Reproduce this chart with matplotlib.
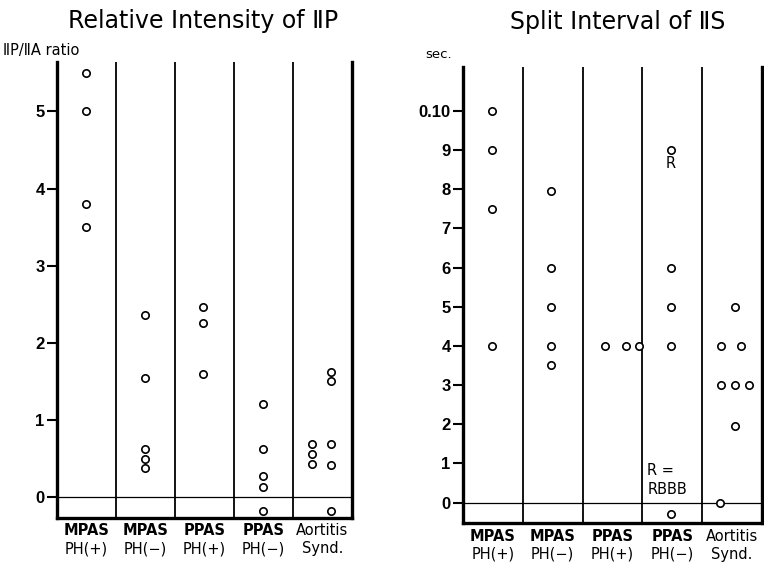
import matplotlib
matplotlib.use("Agg")
import matplotlib.pyplot as plt
from matplotlib.transforms import blended_transform_factory

# ---- data ----
groups_top = ["MPAS", "MPAS", "PPAS", "PPAS", "Aortitis"]
groups_bot = ["PH(+)", "PH(\u2212)", "PH(+)", "PH(\u2212)", "Synd."]

# Relative intensity of IIP (IIP/IIA ratio): group index, value, offset in column
ip_group = [0, 0, 0, 0,
            1, 1, 1, 1, 1,
            2, 2, 2,
            3, 3, 3, 3, 3,
            4, 4, 4, 4, 4, 4, 4, 4]
ip_value = [5.5, 5.0, 3.8, 3.5,
            2.36, 1.54, 0.62, 0.50, 0.38,
            2.46, 2.26, 1.60,
            1.21, 0.62, 0.27, 0.13, -0.18,
            0.69, 0.56, 0.43, 1.62, 1.50, 0.69, 0.42, -0.18]
ip_offset = [0.49, 0.49, 0.49, 0.49,
             0.49, 0.49, 0.49, 0.49, 0.49,
             0.47, 0.47, 0.47,
             0.49, 0.49, 0.49, 0.49, 0.49,
             0.32, 0.32, 0.32, 0.64, 0.64, 0.64, 0.64, 0.64]

# Split interval of IIS (hundredths of a second)
is_group = [0, 0, 0, 0,
            1, 1, 1, 1, 1,
            2, 2, 2,
            3, 3, 3, 3, 3,
            4, 4, 4, 4, 4, 4, 4, 4]
is_value = [10.0, 9.0, 7.5, 4.0,
            7.95, 6.0, 5.0, 4.0, 3.5,
            4.0, 4.0, 4.0,
            9.0, 6.0, 5.0, 4.0, -0.3,
            5.0, 4.0, 4.0, 3.0, 3.0, 3.0, 1.95, 0.0]
is_offset = [0.48, 0.48, 0.48, 0.48,
             0.47, 0.47, 0.47, 0.47, 0.47,
             0.38, 0.72, 0.94,
             0.48, 0.48, 0.48, 0.48, 0.48,
             0.55, 0.32, 0.65, 0.32, 0.55, 0.79, 0.55, 0.30]

ip_ticks = [0, 1, 2, 3, 4, 5]
ip_ticklabels = ["0", "1", "2", "3", "4", "5"]
is_ticks = [0, 1, 2, 3, 4, 5, 6, 7, 8, 9, 10]
is_ticklabels = ["0", "1", "2", "3", "4", "5", "6", "7", "8", "9", "0.10"]

plt.rcParams["font.family"] = ["DejaVu Sans"]
NUMFONT = ["Liberation Sans", "DejaVu Sans"]

fig = plt.figure(figsize=(7.64, 5.65), dpi=100)
ax1 = fig.add_axes([57 / 764, 1 - 518 / 565, 295 / 764, 456 / 565])
ax2 = fig.add_axes([463 / 764, 1 - 523.3 / 565, 299 / 764, 456.6 / 565])


def style_panel(ax, ylim, ticks, ticklabels, lab_y):
    ax.set_xlim(0, 5)
    ax.set_ylim(*ylim)
    for s in ["left", "right", "bottom"]:
        ax.spines[s].set_linewidth(2.4)
    ax.spines["top"].set_visible(False)
    for xs in range(1, 5):
        ax.axvline(xs, color="black", lw=1.3)
    ax.axhline(0, color="black", lw=0.9)
    ax.set_xticks([])
    ax.set_yticks(ticks)
    ax.set_yticklabels(ticklabels, fontsize=12, fontweight="bold", family=NUMFONT)
    ax.tick_params(axis="y", length=7, width=1.5, pad=2, direction="out")
    tr = blended_transform_factory(ax.transData, ax.transAxes)
    for i in range(5):
        # the long "Aortitis" is set lighter in the original
        w = "normal" if groups_top[i] == "Aortitis" else "bold"
        ax.text(i + 0.5, lab_y[0], groups_top[i], transform=tr, ha="center",
                va="center", fontsize=10.5, fontweight=w)
        ax.text(i + 0.5, lab_y[1], groups_bot[i], transform=tr, ha="center",
                va="center", fontsize=10.5)


def scatter(ax, grp, vals, offs):
    xs = [g + o for g, o in zip(grp, offs)]
    ax.plot(xs, vals, linestyle="none", marker="o", markersize=5.3,
            markerfacecolor="white", markeredgecolor="black",
            markeredgewidth=1.2, clip_on=False, zorder=3)


style_panel(ax1, (-0.27, 5.64), ip_ticks, ip_ticklabels, (-0.027, -0.067))
scatter(ax1, ip_group, ip_value, ip_offset)

style_panel(ax2, (-0.53, 11.13), is_ticks, is_ticklabels, (-0.028, -0.068))
scatter(ax2, is_group, is_value, is_offset)

# RBBB annotations
ax2.text(3.48, 8.65, "R", ha="center", va="center", fontsize=10.5)
ax2.text(3.08, 0.82, "R =", ha="left", va="center", fontsize=10.5)
ax2.text(3.08, 0.33, "RBBB", ha="left", va="center", fontsize=10.5)

# titles and axis captions
fig.text(203 / 764, 1 - 21 / 565, "Relative Intensity of \u2161P",
         ha="center", va="center", fontsize=17)
fig.text(618 / 764, 1 - 22 / 565, "Split Interval of \u2161S",
         ha="center", va="center", fontsize=17)
fig.text(3 / 764, 1 - 51 / 565, "\u2161P/\u2161A ratio", ha="left",
         va="center", fontsize=10.5)
fig.text(425 / 764, 1 - 55 / 565, "sec.", ha="left", va="center", fontsize=9.5)

fig.savefig("out.png", dpi=100)
